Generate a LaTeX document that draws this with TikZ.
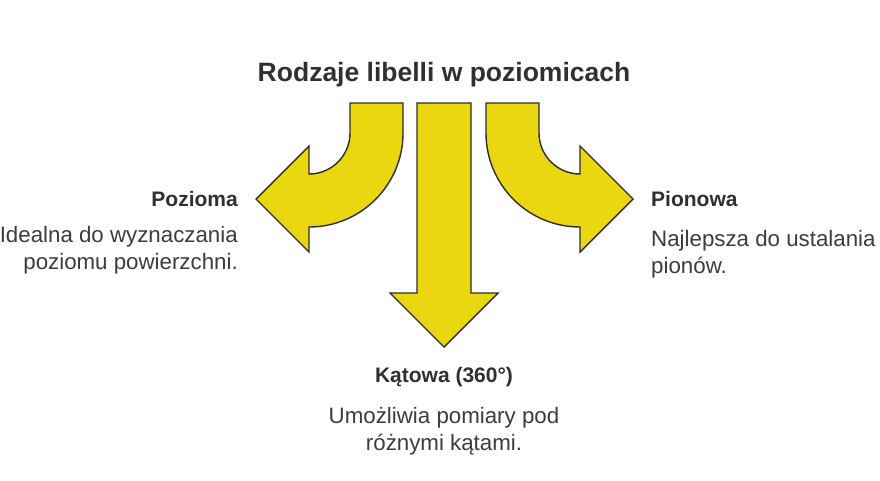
\documentclass[tikz,border=0pt]{standalone}
\usepackage{fontspec}
\setmainfont{Liberation Sans}
\definecolor{arrowfill}{RGB}{235,215,15}
\definecolor{edgecol}{RGB}{45,45,45}
\definecolor{headcol}{RGB}{48,48,48}
\definecolor{textcol}{RGB}{60,60,60}
\begin{document}
\begin{tikzpicture}[x=1pt,y=-1pt,
  arrowshape/.style={fill=arrowfill,draw=edgecol,line width=1.4pt,line join=miter},
  titletext/.style={font=\fontsize{26.5}{30}\selectfont\bfseries,text=headcol,inner sep=0pt},
  headtext/.style={font=\fontsize{21}{24}\selectfont\bfseries,text=headcol,inner sep=0pt},
  desctext/.style={font=\fontsize{22.3}{26}\selectfont,text=textcol,inner sep=0pt}]
\useasboundingbox (0,0) rectangle (880,480);
\fill[white] (0,0) rectangle (880,480);
% left arrow
\draw[arrowshape] (350,103) -- (403,103) -- (403,133)
  arc[start angle=0,end angle=90,radius=94] -- (309,252) -- (256,199) -- (309,146) -- (309,174)
  arc[start angle=90,end angle=0,radius=41] -- cycle;
% centre arrow
\draw[arrowshape] (417,103) -- (471,103) -- (471,293) -- (498,293) -- (444,347) -- (390,293) -- (417,293) -- cycle;
% right arrow
\draw[arrowshape] (539,103) -- (486,103) -- (486,133)
  arc[start angle=180,end angle=90,radius=94] -- (580,252) -- (633,199) -- (580,146) -- (580,174)
  arc[start angle=90,end angle=180,radius=41] -- cycle;
% texts
\node[titletext,anchor=base] (title) at (444,81) {Rodzaje libelli w poziomicach};
\node[headtext,anchor=base east] (lhead) at (238,206) {Pozioma};
\node[desctext,anchor=base east] (ld1) at (238,242) {Idealna do wyznaczania};
\node[desctext,anchor=base east] (ld2) at (238,269) {poziomu powierzchni.};
\node[headtext,anchor=base west] (rhead) at (651,206) {Pionowa};
\node[desctext,anchor=base west] (rd1) at (651,246) {Najlepsza do ustalania};
\node[desctext,anchor=base west] (rd2) at (651,273) {pionów.};
\node[headtext,anchor=base] (chead) at (444,382) {Kątowa (360°)};
\node[desctext,anchor=base] (cd1) at (444,423) {Umożliwia pomiary pod};
\node[desctext,anchor=base] (cd2) at (444,450) {różnymi kątami.};
\end{tikzpicture}
\end{document}
